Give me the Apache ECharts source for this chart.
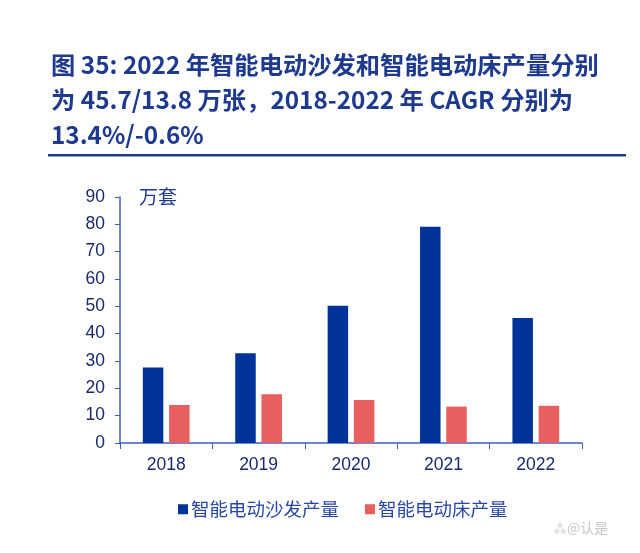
<!DOCTYPE html>
<html><head><meta charset="utf-8">
<script src="https://cdn.jsdelivr.net/npm/echarts@6/dist/echarts.min.js"></script>
<style>html,body{margin:0;padding:0;background:#fff}#c{width:640px;height:553px}</style>
</head><body><div id="c"></div>
<script>
const categories = ['2018','2019','2020','2021','2022'];
const sofaValues = [27.6, 32.8, 50.2, 79.1, 45.7];
const bedValues = [13.9, 17.8, 15.7, 13.3, 13.6];
const seriesNames = ['智能电动沙发产量','智能电动床产量'];
const titleLines = ['图 35: 2022 年智能电动沙发和智能电动床产量分别','为 45.7/13.8 万张，2018-2022 年 CAGR 分别为','13.4%/-0.6%'];
const unitLabel = '万套';

const chart = echarts.init(document.getElementById('c'));
const font = '"Noto Sans CJK SC","Noto Sans",sans-serif';
chart.setOption({
  animation: false,
  backgroundColor: '#fff',
  title: {
    text: titleLines.join('\n'), left: 46, top: 42,
    textStyle: {fontFamily: font, fontSize: 24.3, fontWeight: 'bold', color: '#1d3a8e', lineHeight: 35}
  },
  graphic: [
    {type: 'rect', shape: {x: 48, y: 154, width: 578, height: 2.5}, style: {fill: '#1d3a8e'}},
    {type: 'text', left: 139, top: 187, style: {text: unitLabel, fontFamily: font, fontSize: 19, fill: '#1d3a8e'}},
    {type: 'text', left: 553, top: 521, style: {text: '⁂@认是', fontFamily: font, fontSize: 14, fill: '#c8c8c8'}}
  ],
  legend: {
    top: 495, left: 173, itemWidth: 10, itemHeight: 10, itemGap: 26,
    icon: 'rect',
    textStyle: {fontFamily: font, fontSize: 18.5, color: '#2846a6', padding: [0,0,0,-2]},
    data: seriesNames
  },
  grid: {left: 120, right: 58, top: 197, bottom: 110},
  xAxis: {
    type: 'category', data: categories,
    axisLine: {lineStyle: {color: '#3d5fc2', width: 1.5}},
    axisTick: {show: true, length: 6, lineStyle: {color: '#3d5fc2'}},
    axisLabel: {fontFamily: '"Liberation Sans",Arial,sans-serif', fontSize: 17.5, color: '#1a2a6c', margin: 13}
  },
  yAxis: {
    type: 'value', min: 0, max: 90, interval: 10,
    axisLine: {show: true, lineStyle: {color: '#3d5fc2', width: 1.5}},
    axisTick: {show: true, length: 5, inside: false, lineStyle: {color: '#3d5fc2'}},
    splitLine: {show: false},
    axisLabel: {fontFamily: '"Liberation Sans",Arial,sans-serif', fontSize: 17.5, color: '#1a2a6c', margin: 15}
  },
  series: [
    {name: seriesNames[0], type: 'bar', data: sofaValues, barWidth: 20.5, barGap: '28%', itemStyle: {color: '#003399'}},
    {name: seriesNames[1], type: 'bar', data: bedValues, barWidth: 20.5, itemStyle: {color: '#e85f5f'}}
  ]
});
</script></body></html>
